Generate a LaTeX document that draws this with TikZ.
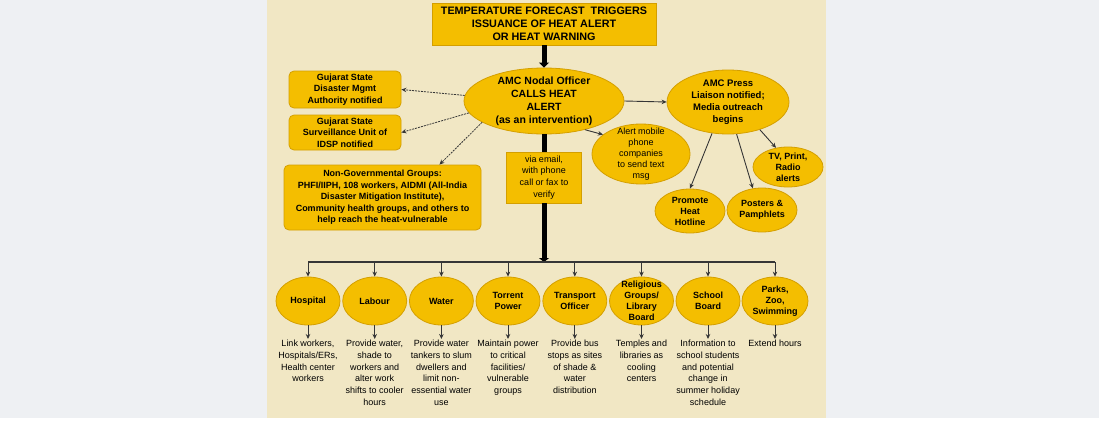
\documentclass[tikz,border=0pt]{standalone}
\usepackage{fontspec}
\setmainfont{Liberation Sans}
\usetikzlibrary{shapes.geometric,arrows.meta}
\definecolor{alertgold}{HTML}{F4BE00}
\definecolor{alertrim}{HTML}{D49F00}
\definecolor{panelcream}{HTML}{F1E7C4}
\definecolor{pagegrey}{HTML}{EEF0F3}
\definecolor{linkgrey}{HTML}{363636}
\tikzset{
  box/.style={draw=alertrim, fill=alertgold, line width=0.8pt, align=center, inner sep=1pt,
    font=\fontsize{9}{11.5}\selectfont\bfseries},
  roundbox/.style={box, rounded corners=5pt},
  oval/.style={ellipse, draw=alertrim, fill=alertgold, line width=0.8pt, inner sep=0pt},
  ovaltext/.style={align=center, inner sep=0pt, font=\fontsize{9}{11}\selectfont\bfseries},
  deednote/.style={align=center, inner sep=1pt, anchor=north, font=\fontsize{9}{11.7}\selectfont},
  dashlink/.style={draw=linkgrey, line width=0.8pt, dash pattern=on 2pt off 1pt,
    -{Stealth[length=5pt,width=4.5pt]}},
  link/.style={draw=linkgrey, line width=0.9pt, -{Stealth[length=5pt,width=4.5pt]}},
  trunk/.style={draw=black, line width=5pt}
}
\begin{document}
\begin{tikzpicture}[x=1pt,y=-1pt]
        \fill[white] (0,0) rectangle (1099,431);
        \fill[pagegrey] (0,0) rectangle (1099,418);
        \fill[panelcream] (267,0) rectangle (826,418);
        \useasboundingbox (0,0) rectangle (1099,431);

        \node[box, minimum width=224, minimum height=42, font=\fontsize{10.8}{13}\selectfont\bfseries]
            (trigger) at (544,24) {TEMPERATURE FORECAST\ \ TRIGGERS\\ISSUANCE OF HEAT ALERT\\OR HEAT WARNING};
        \node[oval, minimum width=160, minimum height=66,
            label={[ovaltext, font=\fontsize{10.5}{13}\selectfont\bfseries]center:{AMC Nodal Officer\\CALLS HEAT\\ALERT\\(as an intervention)}}]
            (amc) at (544,101) {};
        \node[roundbox, minimum width=112, minimum height=37] (gsdma) at (345,89.5)
            {Gujarat State\\Disaster Mgmt\\Authority notified};
        \node[roundbox, minimum width=112, minimum height=35] (idsp) at (345,132.5)
            {Gujarat State\\Surveillance Unit of\\IDSP notified};
        \node[roundbox, minimum width=197, minimum height=65] (ngo) at (382.5,197.5)
            {Non-Governmental Groups:\\PHFI/IIPH, 108 workers, AIDMI (All-India\\Disaster Mitigation Institute),\\Community health groups, and others to\\help reach the heat-vulnerable};
        \node[box, minimum width=75, minimum height=51, font=\fontsize{9}{11.7}\selectfont]
            (email) at (544,177.5) {via email,\\with phone\\call or fax to\\verify};
        \node[oval, minimum width=98, minimum height=60,
            label={[ovaltext, font=\fontsize{9}{11}\selectfont]center:{Alert mobile\\phone\\companies\\to send text\\msg}}]
            (mobile) at (641,154) {};
        \node[oval, minimum width=122, minimum height=64,
            label={[ovaltext, font=\fontsize{9.5}{12}\selectfont\bfseries]center:{AMC Press\\Liaison notified;\\Media outreach\\begins}}]
            (press) at (728,102) {};
        \node[oval, minimum width=70, minimum height=40, label={[ovaltext]center:{TV, Print,\\Radio\\alerts}}]
            (media) at (788,167) {};
        \node[oval, minimum width=70, minimum height=44, label={[ovaltext]center:{Promote\\Heat\\Hotline}}]
            (hotline) at (690,211) {};
        \node[oval, minimum width=70, minimum height=44, label={[ovaltext]center:{Posters \&\\Pamphlets}}]
            (posters) at (762,210) {};

        \draw[trunk, -{Triangle[length=5pt,width=10pt]}] (trigger) -- (amc);
        \draw[dashlink] (amc.176) -- (gsdma.east);
        \draw[dashlink] (amc.189) -- (idsp.east);
        \draw[dashlink] (amc.199) -- (ngo.30);
        \draw[link] (amc.325) -- (mobile.153);
        \draw[link] (amc.east) -- (press.west);
        \draw[link] (press.243) -- (hotline.north);
        \draw[link] (press.285) -- (posters.113);
        \draw[link] (press.319) -- (media.122);

        \coordinate (hub) at (544,262);
        \draw[trunk] (amc) -- (email);
        \draw[trunk, -{Triangle[length=4pt,width=10pt]}] (email) -- (hub);
        \draw[draw=linkgrey, line width=1.6pt] (308,262) -- (775,262);

        \node[oval, minimum width=64, minimum height=48, label={[ovaltext]center:Hospital}] (hosp) at (308,301) {};
        \node[oval, minimum width=64, minimum height=48, label={[ovaltext]center:Labour}] (labour) at (374.7,301) {};
        \node[oval, minimum width=64, minimum height=48, label={[ovaltext]center:Water}] (water) at (441.4,301) {};
        \node[oval, minimum width=64, minimum height=48, label={[ovaltext]center:{Torrent\\Power}}] (power) at (508,301) {};
        \node[oval, minimum width=64, minimum height=48, label={[ovaltext]center:{Transport\\Officer}}] (transport) at (574.8,301) {};
        \node[oval, minimum width=64, minimum height=48, label={[ovaltext]center:{Religious\\Groups/\\Library\\Board}}] (faith) at (641.5,301) {};
        \node[oval, minimum width=64, minimum height=48, label={[ovaltext]center:{School\\Board}}] (school) at (708,301) {};
        \node[oval, minimum width=66, minimum height=48, label={[ovaltext]center:{Parks,\\Zoo,\\Swimming}}] (parks) at (775,301) {};

        \node[deednote] (hosp-task) at (308,339) {Link workers,\\Hospitals/ERs,\\Health center\\workers};
        \node[deednote] (labour-task) at (374.7,339) {Provide water,\\shade to\\workers and\\alter work\\shifts to cooler\\hours};
        \node[deednote] (water-task) at (441.4,339) {Provide water\\tankers to slum\\dwellers and\\limit non-\\essential water\\use};
        \node[deednote] (power-task) at (508,339) {Maintain power\\to critical\\facilities/\\vulnerable\\groups};
        \node[deednote] (transport-task) at (574.8,339) {Provide bus\\stops as sites\\of shade \&\\water\\distribution};
        \node[deednote] (faith-task) at (641.5,339) {Temples and\\libraries as\\cooling\\centers};
        \node[deednote] (school-task) at (708,339) {Information to\\school students\\and potential\\change in\\summer holiday\\schedule};
        \node[deednote] (parks-task) at (775,339) {Extend hours};

        \foreach \d in {hosp,labour,water,power,transport,faith,school,parks}{
            \draw[link] (\d.north |- hub) -- (\d.north);
            \draw[link] (\d.south) -- (\d-task.north);
        }
    \end{tikzpicture}
\end{document}
